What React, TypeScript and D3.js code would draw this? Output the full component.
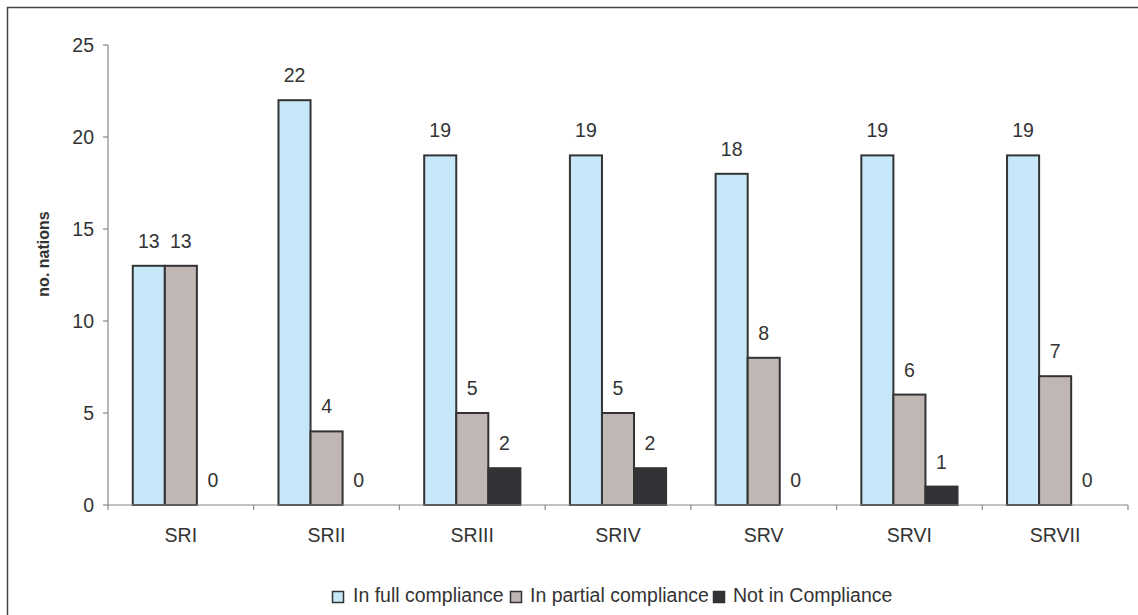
import React, { useMemo } from 'react';
import * as d3 from 'd3';

const categories = ['SRI', 'SRII', 'SRIII', 'SRIV', 'SRV', 'SRVI', 'SRVII'];
const seriesNames = ['In full compliance', 'In partial compliance', 'Not in Compliance'];
const fullCompliance = [13, 22, 19, 19, 18, 19, 19];
const partialCompliance = [13, 4, 5, 5, 8, 6, 7];
const notInCompliance = [0, 0, 2, 2, 0, 1, 0];
const yTicks = [0, 5, 10, 15, 20, 25];

const seriesColors = ['#c6e8f8', '#c0b7b5', '#333337'];

const App: React.FC = () => {
  const width = 1138;
  const height = 615;
  const left = 108;
  const right = 1128;
  const top = 45;
  const bottom = 505;
  const font = 'Liberation Sans, Arial, sans-serif';

  const seriesValues = [fullCompliance, partialCompliance, notInCompliance];

  const { x, inner, y } = useMemo(() => {
    const x = d3.scaleBand<string>()
      .domain(categories)
      .range([left, right])
      .paddingInner(0.34)
      .paddingOuter(0.17);
    const inner = d3.scaleBand<string>()
      .domain(seriesNames)
      .range([0, x.bandwidth()]);
    const y = d3.scaleLinear().domain([0, 25]).range([bottom, top]);
    return { x, inner, y };
  }, []);

  const step = x.step();
  const boundaries = d3.range(categories.length + 1).map((i) => left + i * step);

  // legend item positions (square x, text x)
  const legendItems = [
    { sq: 332, tx: 353 },
    { sq: 510, tx: 530 },
    { sq: 713, tx: 733 },
  ];

  return (
    <div style={{ position: 'fixed', left: 0, top: 0, width, height, background: '#fff' }}>
      <svg width={width} height={height} style={{ display: 'block' }}>
        <rect x={0} y={0} width={width} height={height} fill="#fff" />
        {/* chart frame (only top & left fall inside the picture) */}
        <rect x={7.5} y={7.5} width={width + 20} height={height + 20} fill="none" stroke="#444" strokeWidth={1.5} />

        {/* y axis */}
        <line x1={left} x2={left} y1={top} y2={bottom} stroke="#888" strokeWidth={1.2} />
        {yTicks.map((t) => (
          <g key={t}>
            <line x1={left - 5} x2={left} y1={y(t)} y2={y(t)} stroke="#888" strokeWidth={1.2} />
            <text
              x={left - 14}
              y={y(t)}
              dy="0.35em"
              textAnchor="end"
              fontSize={19.5}
              fontFamily={font}
              fill="#333"
            >
              {t}
            </text>
          </g>
        ))}

        {/* bars */}
        {categories.map((c, ci) => (
          <g key={c} transform={`translate(${x(c)},0)`}>
            {seriesNames.map((s, si) => {
              const v = seriesValues[si][ci];
              const bx = inner(s) as number;
              const bw = inner.bandwidth();
              return (
                <g key={s}>
                  {v > 0 && (
                    <rect
                      x={bx}
                      y={y(v)}
                      width={bw}
                      height={y(0) - y(v)}
                      fill={seriesColors[si]}
                      stroke="#333"
                      strokeWidth={2}
                    />
                  )}
                  <text
                    x={bx + bw / 2}
                    y={y(v) - 18}
                    textAnchor="middle"
                    fontSize={19.5}
                    fontFamily={font}
                    fill="#333"
                  >
                    {v}
                  </text>
                </g>
              );
            })}
          </g>
        ))}

        {/* x axis */}
        <line x1={left} x2={right} y1={bottom} y2={bottom} stroke="#888" strokeWidth={1.2} />
        {boundaries.map((bx, i) => (
          <line key={i} x1={bx} x2={bx} y1={bottom} y2={bottom + 5} stroke="#888" strokeWidth={1.2} />
        ))}
        {categories.map((c) => (
          <text
            key={c}
            x={(x(c) as number) + x.bandwidth() / 2}
            y={542}
            textAnchor="middle"
            fontSize={19.5}
            fontFamily={font}
            fill="#333"
          >
            {c}
          </text>
        ))}

        {/* y axis title */}
        <text
          transform="translate(49,254) rotate(-90)"
          textAnchor="middle"
          fontSize={16}
          fontWeight="bold"
          fontFamily={font}
          fill="#333"
        >
          no. nations
        </text>

        {/* legend */}
        {seriesNames.map((s, i) => (
          <g key={s}>
            <rect
              x={legendItems[i].sq + 0.5}
              y={591.5}
              width={11}
              height={11}
              fill={seriesColors[i]}
              stroke="#333"
              strokeWidth={1.5}
            />
            <text
              x={legendItems[i].tx}
              y={602}
              fontSize={19.5}
              fontFamily={font}
              fill="#333"
            >
              {s}
            </text>
          </g>
        ))}
      </svg>
    </div>
  );
};

export default App;
